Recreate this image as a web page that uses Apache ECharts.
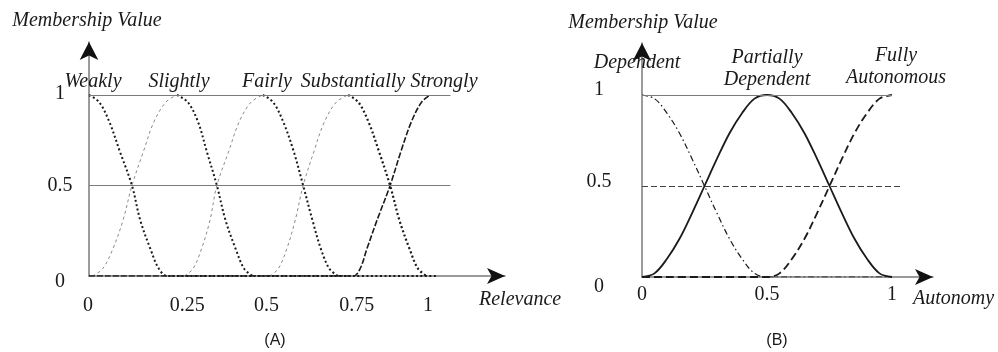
<!DOCTYPE html>
<html>
<head>
<meta charset="utf-8">
<script src="https://cdn.jsdelivr.net/npm/echarts@6/dist/echarts.min.js"></script>
<style>
  html, body { margin: 0; padding: 0; background: #fff; }
  #chart { width: 998px; height: 352px; }
</style>
</head>
<body>
<div id="chart"></div>
<script>
// ---- (A) Relevance ----
var relTicks = [0, 0.25, 0.5, 0.75, 1];
var memTicks = [0, 0.5, 1];
var relNames = ['Weakly', 'Slightly', 'Fairly', 'Substantially', 'Strongly'];
var relGuides = [0.5, 1];

var weaklyFall = [[0, 1], [0.03, 0.96], [0.06, 0.85], [0.09, 0.69], [0.126, 0.5], [0.15, 0.31], [0.18, 0.15], [0.205, 0.04], [0.23, 0], [1.02, 0]];
var slightlyRise = [[0.01, 0], [0.04, 0.04], [0.07, 0.15], [0.1, 0.31], [0.126, 0.5], [0.16, 0.69], [0.19, 0.85], [0.225, 0.96], [0.258, 1]];
var slightlyFall = [[0.258, 1], [0.29, 0.96], [0.32, 0.85], [0.345, 0.69], [0.375, 0.5], [0.4, 0.31], [0.43, 0.15], [0.455, 0.04], [0.48, 0]];
var fairlyRise = [[0.28, 0], [0.305, 0.04], [0.33, 0.15], [0.355, 0.31], [0.375, 0.5], [0.41, 0.69], [0.44, 0.85], [0.475, 0.96], [0.51, 1]];
var fairlyFall = [[0.51, 1], [0.54, 0.96], [0.57, 0.85], [0.6, 0.69], [0.628, 0.5], [0.655, 0.31], [0.68, 0.15], [0.705, 0.04], [0.73, 0]];
var substRise = [[0.53, 0], [0.555, 0.04], [0.58, 0.15], [0.605, 0.31], [0.628, 0.5], [0.66, 0.69], [0.69, 0.85], [0.725, 0.96], [0.76, 1]];
var substFall = [[0.76, 1], [0.79, 0.96], [0.82, 0.85], [0.85, 0.69], [0.883, 0.5], [0.91, 0.31], [0.94, 0.15], [0.965, 0.04], [0.99, 0]];
var strongRise = [[0, 0], [0.775, 0], [0.795, 0.04], [0.815, 0.15], [0.845, 0.31], [0.883, 0.5], [0.915, 0.69], [0.945, 0.85], [0.975, 0.96], [1, 1]];

// ---- (B) Autonomy ----
var autTicks = [0, 0.5, 1];
var autNames = ['Dependent', 'Partially\nDependent', 'Fully\nAutonomous'];
var dependent = [[0, 1], [0.05, 0.98], [0.1, 0.9], [0.15, 0.79], [0.2, 0.65], [0.25, 0.5], [0.3, 0.35], [0.35, 0.21], [0.4, 0.1], [0.45, 0.02], [0.5, 0], [1, 0]];
var partially = [[0, 0], [0.05, 0.02], [0.1, 0.1], [0.15, 0.21], [0.2, 0.35], [0.25, 0.5], [0.3, 0.65], [0.35, 0.79], [0.4, 0.9], [0.45, 0.98], [0.5, 1],
  [0.55, 0.98], [0.6, 0.9], [0.65, 0.79], [0.7, 0.65], [0.75, 0.5], [0.8, 0.35], [0.85, 0.21], [0.9, 0.1], [0.95, 0.02], [1, 0]];
var fully = [[0, 0], [0.5, 0], [0.55, 0.02], [0.6, 0.1], [0.65, 0.21], [0.7, 0.35], [0.75, 0.5], [0.8, 0.65], [0.85, 0.79], [0.9, 0.9], [0.95, 0.98], [1, 1]];

var SERIF = '"Liberation Serif", "Times New Roman", serif';
var INK = '#1a1a1a';
var AXIS = '#7a7a7a';

// axis extents (value at the arrow tip)
var xMax = [1.22, 1.164];
var yMax = [1.293, 1.286];

// label nudges (px) - the original tick labels are hand placed
var relTickShift = { '0': [-1, 0], '0.25': [13, 0], '0.5': [7, 0], '0.75': [12, 0], '1': [-2, 0] };
var memShiftA = { '0': [0, 6], '0.5': [0, 0], '1': [0, -1] };
var memShiftB = { '0': [0, 10], '0.5': [0, -4], '1': [0, -5] };

function richFor(shifts) {
  var rich = {};
  Object.keys(shifts).forEach(function (k, i) {
    var dx = shifts[k][0], dy = shifts[k][1];
    rich['s' + i] = {
      fontFamily: SERIF, fontSize: 20, color: INK,
      padding: [Math.max(0, 2 * dy), Math.max(0, -2 * dx), Math.max(0, -2 * dy), Math.max(0, 2 * dx)]
    };
  });
  return rich;
}
function fmtFor(shifts) {
  var keys = Object.keys(shifts);
  return function (v) {
    var s = String(+v.toFixed(2));
    var i = keys.indexOf(s);
    return i < 0 ? s : '{s' + i + '|' + s + '}';
  };
}

function baseAxis(gi, max) {
  return {
    gridIndex: gi, type: 'value', min: 0, max: max,
    axisLine: { show: true, lineStyle: { color: AXIS, width: 1.5 } },
    axisTick: { show: false },
    splitLine: { show: false }
  };
}
// overlay axis that only draws the black arrow head
function arrowAxis(gi, max, size) {
  return {
    gridIndex: gi, type: 'value', min: 0, max: max,
    axisLine: { show: true, lineStyle: { color: '#111', width: 0 }, symbol: ['none', 'arrow'], symbolSize: size },
    axisTick: { show: false }, axisLabel: { show: false }, splitLine: { show: false }
  };
}
function xAxisCfg(gi, ticks, margin, shifts) {
  var a = baseAxis(gi, xMax[gi]);
  a.axisLabel = {
    customValues: ticks, margin: margin, fontFamily: SERIF, fontSize: 20, color: INK,
    formatter: shifts ? fmtFor(shifts) : function (v) { return String(v); },
    rich: shifts ? richFor(shifts) : undefined
  };
  return a;
}
function yAxisCfg(gi, margin, shifts) {
  var a = baseAxis(gi, yMax[gi]);
  a.axisLabel = {
    customValues: memTicks, margin: margin, align: 'center', fontFamily: SERIF, fontSize: 20, color: INK,
    formatter: fmtFor(shifts), rich: richFor(shifts)
  };
  return a;
}

function curve(gi, data, color, width, dash) {
  return {
    type: 'line', xAxisIndex: gi, yAxisIndex: gi, data: data,
    symbol: 'none', smooth: 0.35, silent: true, z: 3,
    lineStyle: { color: color, width: width, type: dash, cap: 'butt' }
  };
}
function guides(gi, levels, end, styles) {
  return {
    type: 'line', xAxisIndex: gi, yAxisIndex: gi, data: [], symbol: 'none', silent: true, z: 2,
    markLine: {
      silent: true, symbol: 'none', label: { show: false },
      data: levels.map(function (lv, i) {
        return [{ coord: [0, lv], lineStyle: styles[i] }, { coord: [end[i], lv] }];
      })
    }
  };
}

var DOT = [2, 2.5];
var thinGray = '#8a8a8a';

var series = [
  guides(0, relGuides, [1.06, 1.06], [
    { color: AXIS, width: 1.2, type: 'solid' },
    { color: AXIS, width: 1.2, type: 'solid' }
  ]),
  curve(0, weaklyFall, INK, 2, DOT),
  curve(0, slightlyRise, thinGray, 1, [3, 3]),
  curve(0, slightlyFall, INK, 2, DOT),
  curve(0, fairlyRise, thinGray, 1, [3, 3]),
  curve(0, fairlyFall, INK, 2, DOT),
  curve(0, substRise, thinGray, 1, [3, 3]),
  curve(0, substFall, INK, 2.2, DOT),
  curve(0, strongRise, INK, 1.6, [6, 2]),

  guides(1, relGuides, [1.04, 1.0], [
    { color: '#444', width: 1, type: [6, 3] },
    { color: AXIS, width: 1.2, type: 'solid' }
  ]),
  curve(1, dependent, INK, 1.2, [6, 3, 1.5, 3]),
  curve(1, partially, INK, 1.8, 'solid'),
  curve(1, fully, INK, 1.8, [8, 4])
];

function txt(x, y, s, font, align) {
  return {
    type: 'text', x: x, y: y, silent: true, z: 10,
    style: { text: s, font: font, fill: INK, align: align || 'center', verticalAlign: 'middle', lineHeight: 22 }
  };
}
var ITAL = 'italic 20px ' + SERIF;
var SANS = '16px "Liberation Sans", Arial, sans-serif';

var graphic = [
  txt(87, 21, 'Membership Value', ITAL),
  txt(93, 82, relNames[0], ITAL),
  txt(179, 82, relNames[1], ITAL),
  txt(267, 82, relNames[2], ITAL),
  txt(353, 82, relNames[3], ITAL),
  txt(444, 82, relNames[4], ITAL),
  txt(479, 300, 'Relevance', ITAL, 'left'),
  txt(275, 341, '(A)', SANS),

  txt(643, 23, 'Membership Value', ITAL),
  txt(637, 63, autNames[0], ITAL),
  txt(767, 69, autNames[1], ITAL),
  txt(896, 67, autNames[2], ITAL),
  txt(913, 299, 'Autonomy', ITAL, 'left'),
  txt(777, 341, '(B)', SANS)
];

var chart = echarts.init(document.getElementById('chart'), null, { renderer: 'canvas' });
chart.setOption({
  animation: false,
  backgroundColor: '#fff',
  grid: [
    { left: 89, top: 276 - 181 * yMax[0], width: 341 * xMax[0], height: 181 * yMax[0], show: false },
    { left: 642, top: 277 - 182 * yMax[1], width: 250 * xMax[1], height: 182 * yMax[1], show: false }
  ],
  xAxis: [
    xAxisCfg(0, relTicks, 20, relTickShift),
    xAxisCfg(1, autTicks, 8, null),
    arrowAxis(0, xMax[0], [12, 18]),
    arrowAxis(1, xMax[1], [12, 18])
  ],
  yAxis: [
    yAxisCfg(0, 29, memShiftA),
    yAxisCfg(1, 43, memShiftB),
    arrowAxis(0, yMax[0], [14, 18]),
    arrowAxis(1, yMax[1], [14, 18])
  ],
  series: series,
  graphic: graphic
});
</script>
</body>
</html>
